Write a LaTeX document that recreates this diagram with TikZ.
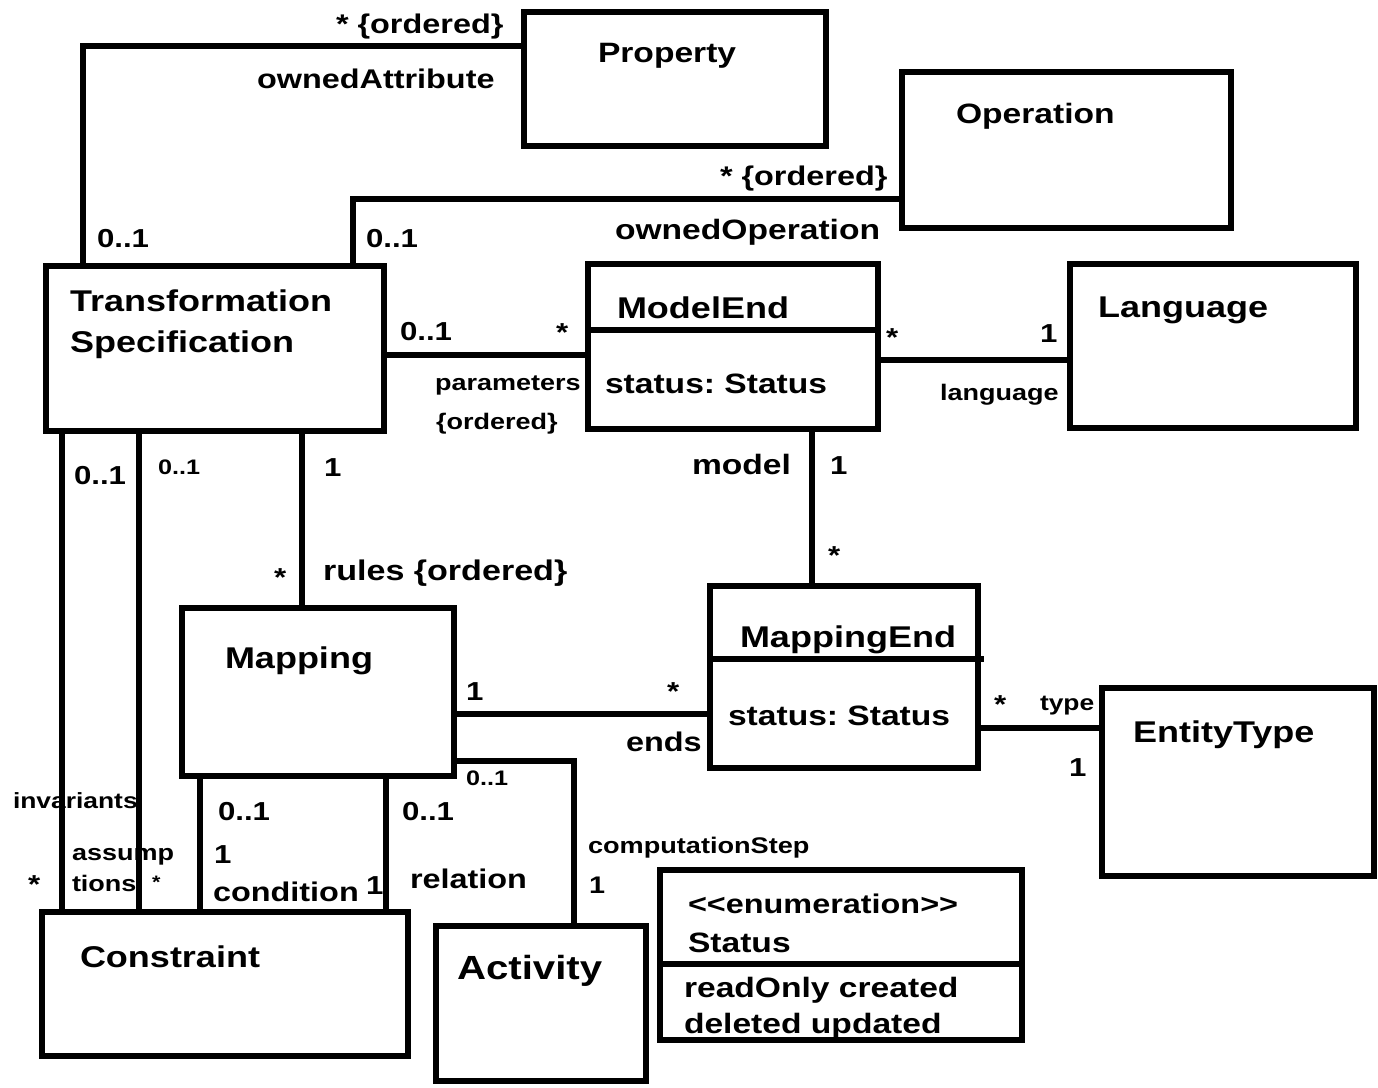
\documentclass[tikz,border=0pt]{standalone}
\usepackage{fontspec}
\setmainfont{Liberation Sans}[FakeStretch=1.2]
\usetikzlibrary{calc}
\frenchspacing
\tikzset{
  box/.style={draw, rectangle, line width=6.5pt, inner sep=0pt, outer sep=0pt},
  conn/.style={line width=6.5pt},
  txt/.style={inner sep=0pt, outer sep=0pt, anchor=base west, font=\bfseries\fontsize{#1pt}{#1pt}\selectfont},
  txt/.default=26
}
\begin{document}
\frenchspacing
\begin{tikzpicture}[x=1pt,y=-1pt]
\fill[white] (0,0) rectangle (1378,1087);
\useasboundingbox (0,0) rectangle (1378,1087);

% boxes
\node[box, minimum width=302pt, minimum height=134pt] (prop) at (675,79) {};
\node[box, minimum width=329pt, minimum height=156pt] (oper) at (1066.5,150) {};
\node[box, minimum width=338pt, minimum height=165pt] (ts) at (215,348.5) {};
\node[box, minimum width=290pt, minimum height=165pt] (me) at (733,346.5) {};
\node[box, minimum width=286pt, minimum height=164pt] (lang) at (1213,346) {};
\node[box, minimum width=272pt, minimum height=168pt] (map) at (318,692) {};
\node[box, minimum width=268pt, minimum height=182pt] (mape) at (844,677) {};
\node[box, minimum width=272pt, minimum height=188pt] (ent) at (1238,782) {};
\node[box, minimum width=366pt, minimum height=144pt] (con) at (225,984) {};
\node[box, minimum width=210pt, minimum height=155pt] (act) at (541,1003.5) {};
\node[box, minimum width=362pt, minimum height=170pt] (stat) at (841,955) {};

% compartment dividers
\draw[conn] ($(me.north west)+(0,66)$) -- ($(me.north east)+(0,66)$);
\draw[conn] ($(mape.north west)+(0,73)$) -- ($(mape.north east)+(6,73)$);
\draw[conn] ($(stat.north west)+(0,94)$) -- ($(stat.north east)+(0,94)$);

% class texts
\node[txt=28] (tprop) at (598,62) {Property};
\node[txt=28] (toper) at (956,123) {Operation};
\node[txt=30] (tts1) at (70,311) {Transformation};
\node[txt=30] (tts2) at (70,352) {Specification};
\node[txt=30] (tme) at (617,318) {ModelEnd};
\node[txt=28] (tmeattr) at (605,393) {status: Status};
\node[txt=30] (tlang) at (1098,317) {Language};
\node[txt=30] (tmap) at (225,668) {Mapping};
\node[txt=30] (tmape) at (740,647) {MappingEnd};
\node[txt=28] (tmapeattr) at (728,725) {status: Status};
\node[txt=30] (tent) at (1133,742) {EntityType};
\node[txt=30] (tcon) at (80,967) {Constraint};
\node[txt=33.5] (tact) at (457,979) {Activity};
\node[txt=27] (tstat1) at (688,913) {<\kern0pt<enumeration>\kern0pt>};
\node[txt=28] (tstat2) at (688,952) {Status};
\node[txt=28] (tstat3) at (684,997) {readOnly created};
\node[txt=28] (tstat4) at (684,1033) {deleted updated};

% connector labels
\node[txt=27] (l1) at (336,33) {* \{ordered\}};
\node[txt=27] (l2) at (257,88) {ownedAttribute};
\node[txt] (l3) at (97,247) {0..1};
\node[txt] (l4) at (366,247) {0..1};
\node[txt=27] (l5) at (720,185) {* \{ordered\}};
\node[txt=28] (l6) at (615,239) {ownedOperation};
\node[txt] (l7) at (400,340) {0..1};
\node[txt] (l8) at (556,341) {*};
\node[txt=22.5] (l9) at (435,390) {parameters};
\node[txt=22.5] (l10) at (436,429) {\{ordered\}};
\node[txt] (l11) at (886,346) {*};
\node[txt] (l12) at (1040,342) {1};
\node[txt=22.5] (l13) at (940,400) {language};
\node[txt] (l14) at (74,484) {0..1};
\node[txt=21] (l15) at (158,474) {0..1};
\node[txt] (l16) at (324,476) {1};
\node[txt=28] (l17) at (692,474) {model};
\node[txt] (l18) at (830,474) {1};
\node[txt] (l19) at (828,564) {*};
\node[txt] (l20) at (274,586) {*};
\node[txt=28.4] (l21) at (323,580) {rules \{ordered\}};
\node[txt] (l22) at (466,700) {1};
\node[txt] (l23) at (667,700) {*};
\node[txt=27] (l24) at (626,751) {ends};
\node[txt] (l25) at (994,713) {*};
\node[txt=22] (l26) at (1040,710) {type};
\node[txt] (l27) at (1069,776) {1};
\node[txt=21] (l28) at (466,785) {0..1};
\node[txt=22] (l29) at (13,808) {invariants};
\node[txt] (l30) at (218,820) {0..1};
\node[txt] (l31) at (402,820) {0..1};
\node[txt=22.5] (l32) at (72,860) {assump};
\node[txt=22.5] (l33) at (72,891) {tions};
\node[txt] (l34) at (28,893) {*};
\node[txt=18] (l35) at (152,888) {*};
\node[txt] (l36) at (214,863) {1};
\node[txt=27] (l37) at (213,901) {condition};
\node[txt] (l38) at (366,894) {1};
\node[txt=27] (l39) at (410,888) {relation};
\node[txt=22.6] (l40) at (588,853) {computationStep};
\node[txt=24] (l41) at (589,893) {1};

% connector bend / alignment coordinates
\coordinate (c1) at (83,46);
\coordinate (c2) at (353,199);
\coordinate (c3) at (0,355);
\coordinate (c4) at (0,360);
\coordinate (c5) at (812,0);
\coordinate (c6) at (302,0);
\coordinate (c7) at (0,714);
\coordinate (c8) at (0,728);
\coordinate (c9) at (574,761);
\coordinate (c10) at (62,0);
\coordinate (c11) at (139,0);
\coordinate (c12) at (200,0);
\coordinate (c13) at (386,0);

% connectors
\draw[conn] (ts.north -| c1) |- (prop.west |- c1);
\draw[conn] (ts.north -| c2) |- (oper.west |- c2);
\draw[conn] (ts.east |- c3) -- (me.west |- c3);
\draw[conn] (me.east |- c4) -- (lang.west |- c4);
\draw[conn] (me.south -| c5) -- (mape.north -| c5);
\draw[conn] (ts.south -| c6) -- (map.north -| c6);
\draw[conn] (map.east |- c7) -- (mape.west |- c7);
\draw[conn] (mape.east |- c8) -- (ent.west |- c8);
\draw[conn] (map.east |- c9) -| (act.north -| c9);
\draw[conn] (ts.south -| c10) -- (con.north -| c10);
\draw[conn] (ts.south -| c11) -- (con.north -| c11);
\draw[conn] (map.south -| c12) -- (con.north -| c12);
\draw[conn] (map.south -| c13) -- (con.north -| c13);
\end{tikzpicture}
\end{document}
